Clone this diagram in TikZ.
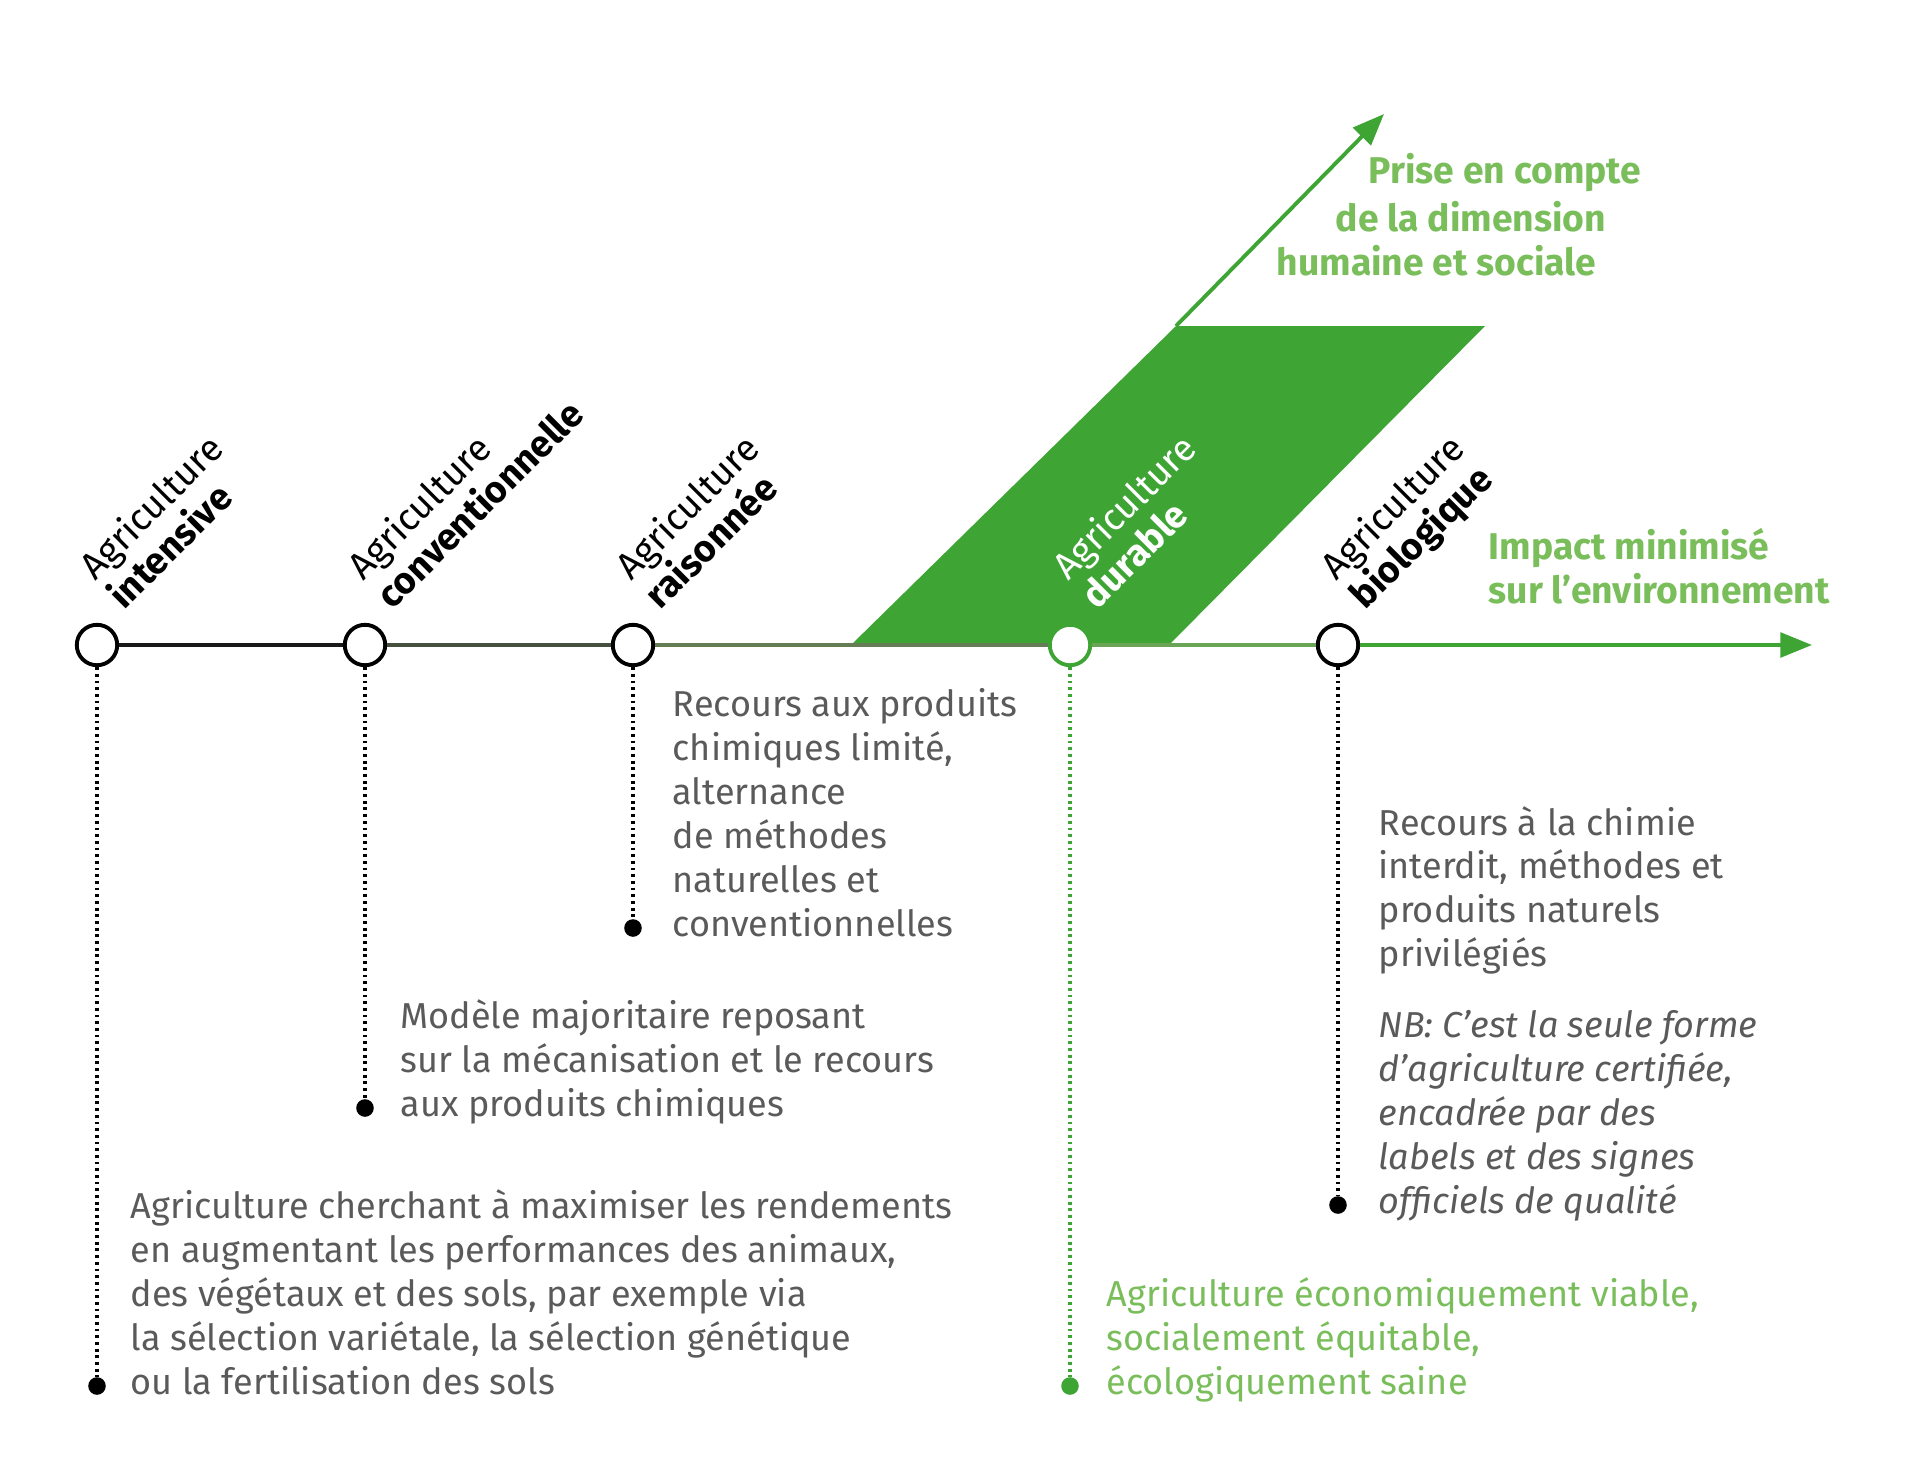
\documentclass[tikz,border=0pt]{standalone}
\usepackage{fontspec}
\setmainfont{Fira Sans}
\usepackage{tikz}
\usetikzlibrary{arrows.meta}
\usetikzlibrary{calc}
\usetikzlibrary{positioning}
\definecolor{AgGreen}{RGB}{62,165,53}
\definecolor{AgLight}{RGB}{122,190,92}
\definecolor{AgGray}{RGB}{90,90,90}
\definecolor{AxisB}{RGB}{70,80,62}
\definecolor{AxisC}{RGB}{100,125,85}
\definecolor{AxisD}{RGB}{105,165,85}
\tikzset{
	stage/.style={circle, draw=black, fill=white, line width=1.1pt, minimum size=11.5pt, inner sep=0pt},
	pt/.style={circle, fill=black, minimum size=5pt, inner sep=0pt},
	ptg/.style={circle, fill=AgGreen, minimum size=5pt, inner sep=0pt},
	lead/.style={line width=1pt, dash pattern=on 0.8pt off 1.1pt, draw=black},
	axis/.style={line width=1.1pt},
	arrowg/.style={line width=1.1pt, draw=AgGreen, -{Triangle[length=9pt, width=7pt]}},
	desc/.style={align=left, anchor=south west, inner sep=0pt, text depth=3pt,
		text=AgGray, font=\fontsize{10.25}{12.5}\selectfont},
	tag/.style={rotate=45, align=left, anchor=south west, inner sep=0pt, text depth=3pt,
		font=\fontsize{10.6}{11.8}\selectfont},
	head/.style={anchor=west, align=left, inner sep=0pt, text=AgLight,
		font=\bfseries\fontsize{10.6}{12.5}\selectfont}
}

\begin{document}
\begin{tikzpicture}[x=0.01cm, y=-0.01cm]
	\useasboundingbox (0,0) rectangle (1920,1478);
	% green band
	\coordinate (bandBL) at (851,645);
	\coordinate (bandTL) at (1176,326);
	\coordinate (bandTR) at (1485,326);
	\coordinate (bandBR) at (1169,645);
	\fill[AgGreen] (bandBL) -- (bandTL) -- (bandTR) -- (bandBR) -- cycle;
	\coordinate (humtop) at (1384,114);
	\draw[arrowg] (bandTL) -- (humtop);
	
	% stages on the axis
	\node[stage] (intensive) at (97,645) {};
	\node[stage] (conv) at (365,645) {};
	\node[stage] (raison) at (633,645) {};
	\node[stage, draw=AgGreen] (durable) at (1070,645) {};
	\node[stage] (bio) at (1338,645) {};
	\coordinate (axisend) at (1812,645);
	\draw[axis, draw=black!90] (intensive) -- (conv);
	\draw[axis, draw=AxisB] (conv) -- (raison);
	\draw[axis, draw=AxisC] (raison) -- (durable);
	\draw[axis, draw=AxisD] (durable) -- (bio);
	\draw[arrowg] (bio) -- (axisend);
	
	% rotated names
	\node[tag] (intensive-tag) at ($(intensive)+(35,-26)$) {Agriculture\\\textbf{intensive}};
	\node[tag] (conv-tag) at ($(conv)+(35,-26)$) {Agriculture\\\textbf{conventionnelle}};
	\node[tag] (raison-tag) at ($(raison)+(35,-26)$) {Agriculture\\\textbf{raisonnée}};
	\node[tag, text=white] (durable-tag) at ($(durable)+(35,-26)$) {Agriculture\\\textbf{durable}};
	\node[tag] (bio-tag) at ($(bio)+(35,-26)$) {Agriculture\\\textbf{biologique}};
	
	% axis headings
	\node[head] (prise) at (1368,173) {Prise en compte};
	\node[head] (dimension) at (1335,217) {de la dimension};
	\node[head] (humaine) at (1276,261) {humaine et sociale};
	\node[head] (impact) at (1488,566) {Impact minimisé\\sur l’environnement};
	
	% leaders and descriptions
	\node[pt] (intensive-dot) at (97,1386) {};
	\node[pt] (conv-dot) at (365,1108) {};
	\node[pt] (raison-dot) at (633,928) {};
	\node[ptg] (durable-dot) at (1070,1386) {};
	\node[pt] (bio-dot) at (1338,1205) {};
	\draw[lead] (intensive) -- (intensive-dot);
	\draw[lead] (conv) -- (conv-dot);
	\draw[lead] (raison) -- (raison-dot);
	\draw[lead, draw=AgGreen] (durable) -- (durable-dot);
	\draw[lead] (bio) -- (bio-dot);
	
	\node[desc] (intensive-txt) at ($(intensive-dot)+(33,20)$)
	{Agriculture cherchant à maximiser les rendements\\en augmentant les performances des animaux,\\des végétaux et des sols, par exemple via\\la sélection variétale, la sélection génétique\\ou la fertilisation des sols};
	\node[desc] (conv-txt) at ($(conv-dot)+(35,20)$)
	{Modèle majoritaire reposant\\sur la mécanisation et le recours\\aux produits chimiques};
	\node[desc] (raison-txt) at ($(raison-dot)+(39,20)$)
	{Recours aux produits\\chimiques limité,\\alternance\\de méthodes\\naturelles et\\conventionnelles};
	\node[desc, text=AgLight] (durable-txt) at ($(durable-dot)+(36,20)$)
	{Agriculture économiquement viable,\\socialement équitable,\\écologiquement saine};
	\node[desc] (bio-txt) at ($(bio-dot)+(40,20)$)
	{Recours à la chimie\\interdit, méthodes et\\produits naturels\\privilégiés\\[7.7pt]\textit{NB: C’est la seule forme}\\\textit{d’agriculture certifiée,}\\\textit{encadrée par des}\\\textit{labels et des signes}\\\textit{officiels de qualité}};
\end{tikzpicture}
\end{document}
